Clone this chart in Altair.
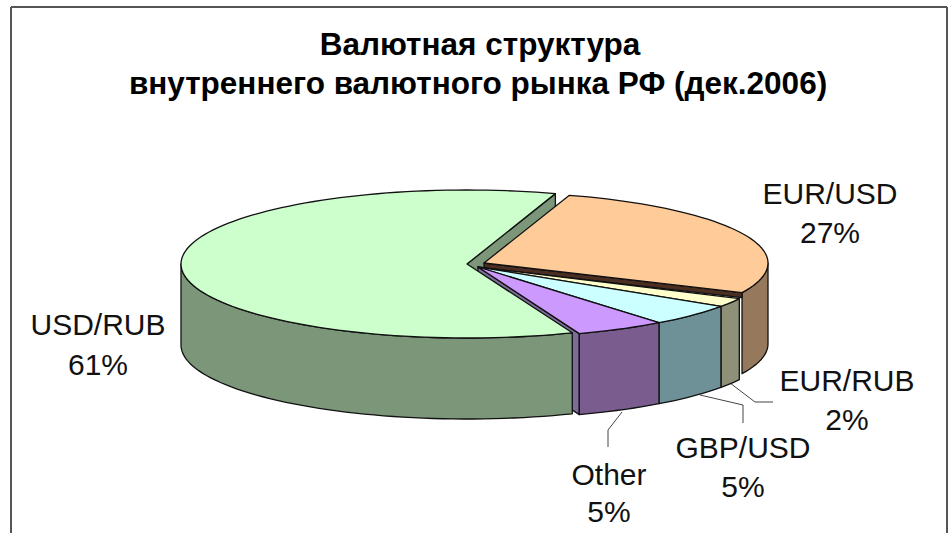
import math
import altair as alt

# Shares of the Russian domestic FX market, December 2006, in drawing order
pairs = ["EUR/USD", "EUR/RUB", "GBP/USD", "Other", "USD/RUB"]
shares = [27, 2, 5, 5, 61]
title_lines = ["Валютная структура", "внутреннего валютного рынка РФ (дек.2006)"]

top_colors = ["#FFCC99", "#FFFFCC", "#CCFFFF", "#CC99FF", "#CCFFCC"]
wall_colors = ["#96795C", "#8E9078", "#6E9198", "#7A5C8E", "#7B9678"]

# Projected pie geometry, in pixels: centre of each exploded slice and semi-axes
DEPTH = 81
orange = dict(cx=484, cy=263, a=284, b=71)
core = dict(cx=478, cy=267, a=292, b=71)
usd = dict(cx=467, cy=264, a=286, b=74)
slice_start = [72.5, -26.5, None, None, 72.0]


def rim(g, t):
    r = math.radians(t)
    return [g["cx"] + g["a"] * math.cos(r), g["cy"] - g["b"] * math.sin(r)]


def arc(g, t0, t1, step=2.0):
    n = max(2, int(abs(t1 - t0) / step) + 1)
    return [rim(g, t0 + (t1 - t0) * i / (n - 1)) for i in range(n)]


def feature(points, fill):
    ring = [list(p) for p in points]
    ring.append(ring[0])
    return {"type": "Feature", "fill": fill,
            "geometry": {"type": "Polygon", "coordinates": [ring]}}


def lowered(points, depth=DEPTH):
    return [[x, y + depth] for x, y in points]


def wall(g, t0, t1, fill):
    edge = arc(g, t0, t1)
    return feature(edge + lowered(edge)[::-1], fill)


def top(g, t0, t1, fill):
    return feature([[g["cx"], g["cy"]]] + arc(g, t0, t1), fill)


def cut(g, t, fill, depth=DEPTH):
    edge = [[g["cx"], g["cy"]], rim(g, t)]
    return feature(edge + lowered(edge, depth)[::-1], fill)


# Angular extent of each slice follows directly from its share
spans = [s * 3.6 for s in shares]
a0 = slice_start[0]
a1 = a0 - spans[0]
b0 = slice_start[1]
b1 = b0 - spans[1]
c1 = b1 - spans[2]
d1 = c1 - spans[3]
u0 = slice_start[4]
u1 = u0 + spans[4]

# Back-to-front painter's order
polys = [
    cut(usd, u0, wall_colors[4]),
    wall(orange, 0, a1, wall_colors[0]),
    cut(orange, a1, "#4A2E22", 5),
    top(orange, a0, a1, top_colors[0]),
    wall(core, b0, b1, wall_colors[1]),
    top(core, b0, b1, top_colors[1]),
    wall(core, b1, c1, wall_colors[2]),
    top(core, b1, c1, top_colors[2]),
    cut(core, d1, "#7D6C99"),
    wall(core, c1, d1, wall_colors[3]),
    top(core, c1, d1, top_colors[3]),
    wall(usd, 180, u1, wall_colors[4]),
    top(usd, u0, u1, top_colors[4]),
]

# Leader lines from the pie to the outer labels
leaders = [
    [[622, 412], [608, 430], [608, 447]],
    [[700, 395], [743, 405], [743, 423]],
    [[730, 383], [755, 402], [773, 402]],
]
leader_features = [
    {"type": "Feature", "geometry": {"type": "LineString", "coordinates": line}}
    for line in leaders
]

# Label anchors: name line and percentage line
label_x = [830, 847, 743, 609, 98]
name_y = [195, 382, 449, 476, 326]
pct_y = [234, 421, 488, 513, 366]
label_rows = []
for name, share, x, y0, y1 in zip(pairs, shares, label_x, name_y, pct_y):
    label_rows.append({"text": name, "x": x, "y": y0})
    label_rows.append({"text": f"{share}%", "x": x, "y": y1})

title_rows = [
    {"text": title_lines[0], "x": 480, "y": 45.5},
    {"text": title_lines[1], "x": 478, "y": 84.5},
]

projection = dict(type="identity", scale=1, translate=[0, 0])

pie = (
    alt.Chart(alt.Data(values=polys))
    .mark_geoshape(stroke="#111111", strokeWidth=1.3, strokeJoin="round")
    .encode(fill=alt.Fill("fill:N", scale=None, legend=None))
    .project(**projection)
)

leader_layer = (
    alt.Chart(alt.Data(values=leader_features))
    .mark_geoshape(filled=False, stroke="#444444", strokeWidth=1)
    .project(**projection)
)

labels = (
    alt.Chart(alt.Data(values=label_rows))
    .mark_text(font="Liberation Sans", fontSize=30, color="#111111", baseline="middle", align="center")
    .encode(
        x=alt.X("x:Q", scale=None, axis=None),
        y=alt.Y("y:Q", scale=None, axis=None),
        text="text:N",
    )
)

titles = (
    alt.Chart(alt.Data(values=title_rows))
    .mark_text(font="Liberation Sans", fontSize=31.5, fontWeight="bold", color="#000000", baseline="middle", align="center")
    .encode(
        x=alt.X("x:Q", scale=None, axis=None),
        y=alt.Y("y:Q", scale=None, axis=None),
        text="text:N",
    )
)

# Frame around the chart area; it runs off the lower edge of the page
frame_style = dict(color="#555555", strokeWidth=2)
frame_left = alt.Chart(alt.Data(values=[{}])).mark_rule(**frame_style).encode(
    x=alt.value(11), y=alt.value(7), y2=alt.value(533))
frame_right = alt.Chart(alt.Data(values=[{}])).mark_rule(**frame_style).encode(
    x=alt.value(947), y=alt.value(7), y2=alt.value(533))
frame_top = alt.Chart(alt.Data(values=[{}])).mark_rule(**frame_style).encode(
    x=alt.value(11), x2=alt.value(947), y=alt.value(7))

chart = (
    alt.layer(frame_left, frame_right, frame_top, leader_layer, pie, labels, titles)
    .properties(width=950, height=533, padding=0, background="white")
    .configure_view(stroke=None)
)
chart.autosize = alt.AutoSizeParams(type="none")

chart.save("out.html", embed_options={"renderer": "svg", "actions": False})
